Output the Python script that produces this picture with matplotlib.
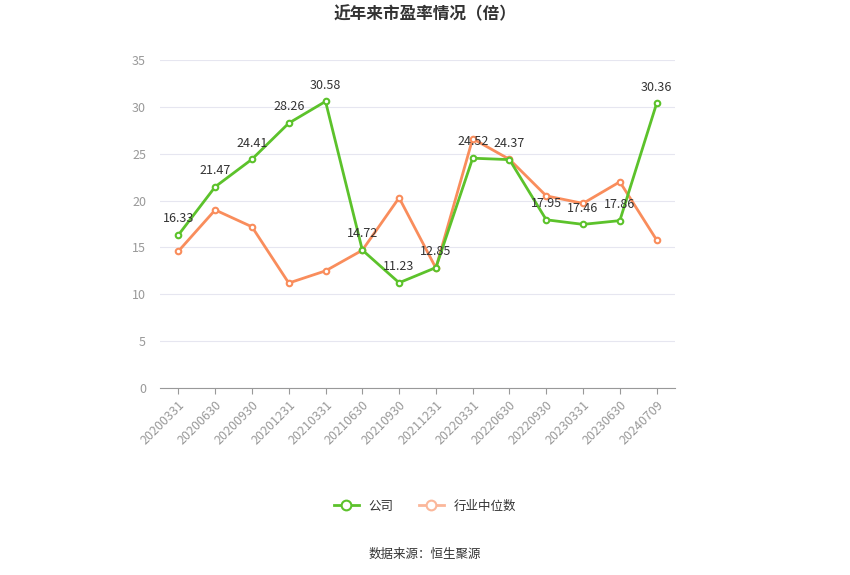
import matplotlib
matplotlib.use("Agg")
import matplotlib.pyplot as plt

plt.rcParams["font.family"] = ["Noto Sans CJK SC"]

dates = ["20200331","20200630","20200930","20201231","20210331","20210630","20210930",
         "20211231","20220331","20220630","20220930","20230331","20230630","20240709"]
company = [16.33,21.47,24.41,28.26,30.58,14.72,11.23,12.85,24.52,24.37,17.95,17.46,17.86,30.36]
industry = [14.6,19.0,17.2,11.2,12.5,14.7,20.3,12.8,26.6,24.4,20.5,19.7,22.0,15.8]
yticks = [0,5,10,15,20,25,30,35]

fig = plt.figure(figsize=(8.5,5.75), dpi=100)
ax = fig.add_axes([160/850, 1-388/575, 515/850, 328/575])
x = range(len(dates))
green = "#5cc22b"; orange = "#f98d5c"
ax.plot(x, industry, color=orange, lw=2, marker="o", ms=4, mfc="white", mec=orange, mew=1.5, zorder=2)
ax.plot(x, company, color=green, lw=2, marker="o", ms=4, mfc="white", mec=green, mew=1.5, zorder=3)
for i, v in enumerate(company):
    ax.annotate(f"{v:.2f}", (i, v), xytext=(0, 7), textcoords="offset points",
                ha="center", va="bottom", fontsize=9, color="#333333")
ax.set_xlim(-0.5, len(dates)-0.5)
ax.set_ylim(0, 35)
ax.set_yticks(yticks)
ax.set_xticks(list(x))
ax.set_xticklabels(dates, rotation=45, ha="right", rotation_mode="anchor", fontsize=9, color="#999999")
ax.tick_params(axis="y", length=0, labelsize=9, labelcolor="#999999", pad=10)
ax.tick_params(axis="x", length=4, color="#999999")
ax.grid(axis="y", color="#e6e6f0", lw=0.8)
for s in ["top","right","left"]:
    ax.spines[s].set_visible(False)
ax.spines["bottom"].set_color("#999999")
ax.set_axisbelow(True)

fig.text(0.5, 1-14/575, "近年来市盈率情况（倍）", ha="center", va="center", fontsize=12, fontweight="bold", color="#333333")
from matplotlib.lines import Line2D
h = [Line2D([], [], color=green, lw=2, marker="o", ms=7, mfc="white", mec=green, mew=1.5),
     Line2D([], [], color="#fbb79a", lw=2, marker="o", ms=7, mfc="white", mec="#fbb79a", mew=1.5)]
fig.legend(h, ["公司","行业中位数"], loc="center", bbox_to_anchor=(0.5, 1-506/575), ncol=2,
           frameon=False, fontsize=9, handlelength=2, columnspacing=2, labelcolor="#333333")
fig.text(0.5, 1-554/575, "数据来源：恒生聚源", ha="center", va="center", fontsize=9, color="#333333")
fig.savefig("out.png")
